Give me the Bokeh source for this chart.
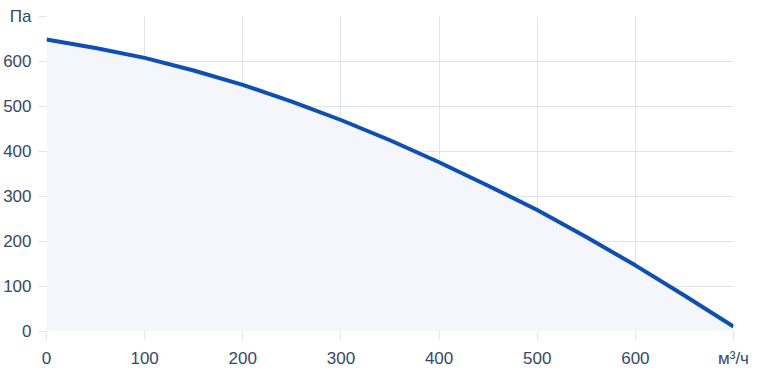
from bokeh.plotting import figure
from bokeh.models import Range1d, FixedTicker
from bokeh.embed import file_html
from bokeh.resources import INLINE

flow = [0, 50, 100, 150, 200, 250, 300, 350, 400, 450, 500, 550, 600, 650, 700]
pressure = [649, 630, 608, 580, 548, 511, 470, 425, 376, 324, 270, 210, 147, 80, 11]
x_ticks = [0, 100, 200, 300, 400, 500, 600, 700]
y_ticks = [0, 100, 200, 300, 400, 500, 600, 700]
x_unit = "м³/ч"
y_unit = "Па"

label_color = "#36486a"
grid_color = "#e0e3e8"

p = figure(width=758, height=372, output_backend="svg", toolbar_location=None,
           x_range=Range1d(0, 700), y_range=Range1d(0, 700),
           min_border_left=46, min_border_right=25, min_border_top=16, min_border_bottom=41)
p.outline_line_color = None
p.background_fill_color = "white"

p.varea(x=flow, y1=[0] * len(flow), y2=pressure, fill_color="#f4f6fb")
p.line(x=flow, y=pressure, line_color="#0d4fb3", line_width=4)

for ax in (p.xaxis[0], p.yaxis[0]):
    ax.axis_line_color = None
    ax.major_tick_line_color = grid_color
    ax.major_tick_out = 8
    ax.major_tick_in = 0
    ax.minor_tick_line_color = None
    ax.major_label_text_color = label_color
    ax.major_label_text_font = "Liberation Sans"
    ax.major_label_text_font_size = "17px"

p.xaxis.ticker = FixedTicker(ticks=x_ticks)
p.yaxis.ticker = FixedTicker(ticks=y_ticks)
p.xaxis.major_label_standoff = 9
p.yaxis.major_label_standoff = 7
p.xaxis.major_label_overrides = {700: x_unit}
p.yaxis.major_label_overrides = {700: y_unit}

p.xgrid.grid_line_color = grid_color
p.ygrid.grid_line_color = grid_color
p.xgrid.ticker = FixedTicker(ticks=x_ticks)
p.ygrid.ticker = FixedTicker(ticks=y_ticks)

open("out.html", "w").write(file_html(p, INLINE))
